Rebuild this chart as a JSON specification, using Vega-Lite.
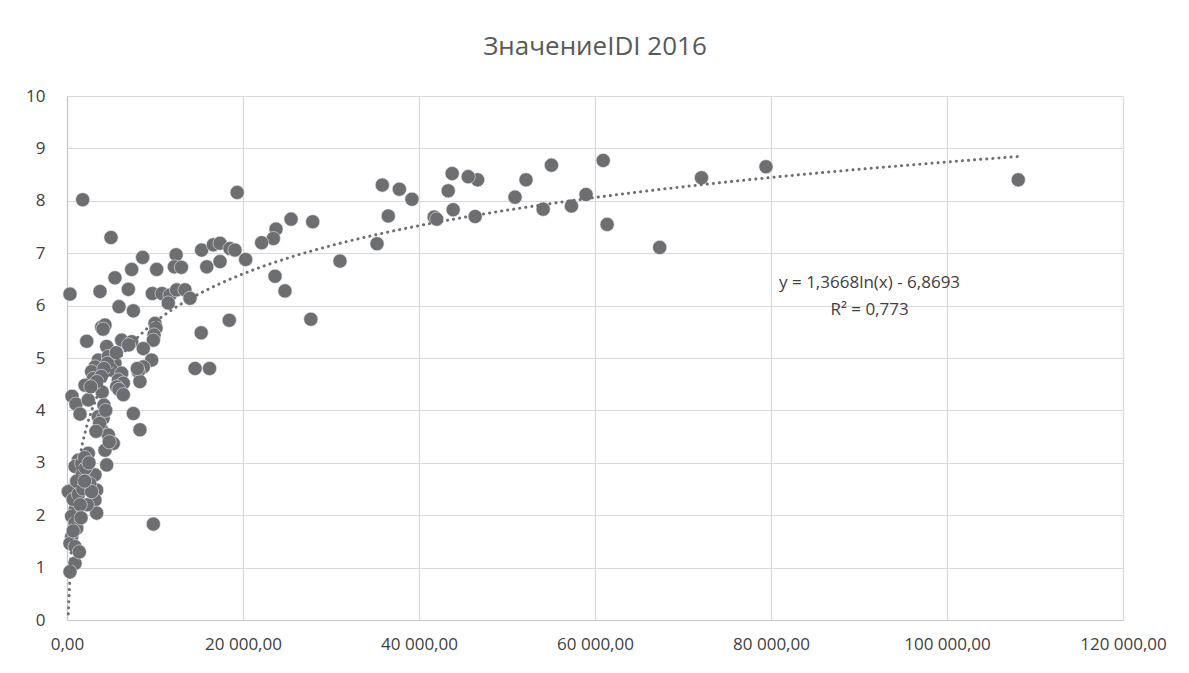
{
  "$schema": "https://vega.github.io/schema/vega-lite/v6.json",
  "width": 1056,
  "height": 524,
  "autosize": {"type": "none"},
  "padding": {"left": 67, "top": 96, "right": 66, "bottom": 53},
  "background": "white",
  "title": {"text": "ЗначениеIDI 2016", "fontSize": 26, "font": "Open Sans", "fontWeight": "normal", "color": "#595959", "offset": 27, "anchor": "middle"},
  "config": {"view": {"stroke": null}},
  "datasets": {
    "pts": [
      {"gdp": 108100, "idi": 8.40}, {"gdp": 79430, "idi": 8.65}, {"gdp": 72100, "idi": 8.44}, {"gdp": 67350, "idi": 7.11},
      {"gdp": 60930, "idi": 8.77}, {"gdp": 61380, "idi": 7.55}, {"gdp": 58980, "idi": 8.12}, {"gdp": 57320, "idi": 7.90},
      {"gdp": 55050, "idi": 8.68}, {"gdp": 54110, "idi": 7.84}, {"gdp": 52160, "idi": 8.40}, {"gdp": 50910, "idi": 8.07},
      {"gdp": 46660, "idi": 8.40}, {"gdp": 45590, "idi": 8.46}, {"gdp": 46380, "idi": 7.70}, {"gdp": 43770, "idi": 8.52},
      {"gdp": 43880, "idi": 7.83}, {"gdp": 43320, "idi": 8.19}, {"gdp": 41720, "idi": 7.69}, {"gdp": 42010, "idi": 7.65},
      {"gdp": 39200, "idi": 8.03}, {"gdp": 37770, "idi": 8.22}, {"gdp": 35830, "idi": 8.30}, {"gdp": 36510, "idi": 7.71},
      {"gdp": 35230, "idi": 7.18}, {"gdp": 31020, "idi": 6.85}, {"gdp": 27920, "idi": 7.60}, {"gdp": 27710, "idi": 5.74},
      {"gdp": 25460, "idi": 7.65}, {"gdp": 23750, "idi": 7.46}, {"gdp": 23450, "idi": 7.28}, {"gdp": 22120, "idi": 7.20},
      {"gdp": 20300, "idi": 6.88}, {"gdp": 23640, "idi": 6.56}, {"gdp": 24770, "idi": 6.28}, {"gdp": 19340, "idi": 8.16},
      {"gdp": 18440, "idi": 5.72}, {"gdp": 15250, "idi": 5.48}, {"gdp": 14550, "idi": 4.80}, {"gdp": 16200, "idi": 4.80},
      {"gdp": 15300, "idi": 7.06}, {"gdp": 16630, "idi": 7.16}, {"gdp": 17390, "idi": 7.19}, {"gdp": 18520, "idi": 7.09},
      {"gdp": 19090, "idi": 7.06}, {"gdp": 15880, "idi": 6.74}, {"gdp": 17390, "idi": 6.84}, {"gdp": 12400, "idi": 6.97},
      {"gdp": 12200, "idi": 6.74}, {"gdp": 13000, "idi": 6.73}, {"gdp": 10190, "idi": 6.69}, {"gdp": 9700, "idi": 6.23},
      {"gdp": 10800, "idi": 6.23}, {"gdp": 11700, "idi": 6.20}, {"gdp": 12460, "idi": 6.30}, {"gdp": 13410, "idi": 6.30},
      {"gdp": 13980, "idi": 6.14}, {"gdp": 11510, "idi": 6.05}, {"gdp": 10000, "idi": 5.66}, {"gdp": 10110, "idi": 5.57},
      {"gdp": 9890, "idi": 5.44}, {"gdp": 9810, "idi": 5.34}, {"gdp": 9620, "idi": 4.96}, {"gdp": 8670, "idi": 4.83},
      {"gdp": 8100, "idi": 4.74}, {"gdp": 8290, "idi": 4.55}, {"gdp": 8600, "idi": 6.92}, {"gdp": 7350, "idi": 6.69},
      {"gdp": 6970, "idi": 6.31}, {"gdp": 5450, "idi": 6.53}, {"gdp": 3750, "idi": 6.27}, {"gdp": 340, "idi": 6.22},
      {"gdp": 1780, "idi": 8.02}, {"gdp": 5000, "idi": 7.30}, {"gdp": 5910, "idi": 5.98}, {"gdp": 7540, "idi": 5.90},
      {"gdp": 3940, "idi": 5.59}, {"gdp": 4320, "idi": 5.63}, {"gdp": 2240, "idi": 5.32}, {"gdp": 4510, "idi": 5.22},
      {"gdp": 6210, "idi": 5.34}, {"gdp": 7350, "idi": 5.31}, {"gdp": 8670, "idi": 5.18}, {"gdp": 3560, "idi": 4.96},
      {"gdp": 3180, "idi": 4.83}, {"gdp": 2800, "idi": 4.74}, {"gdp": 2990, "idi": 4.61}, {"gdp": 4700, "idi": 5.03},
      {"gdp": 5450, "idi": 4.90}, {"gdp": 5080, "idi": 4.77}, {"gdp": 6210, "idi": 4.71}, {"gdp": 5830, "idi": 4.58},
      {"gdp": 6400, "idi": 4.52}, {"gdp": 5650, "idi": 4.45}, {"gdp": 2050, "idi": 4.48}, {"gdp": 570, "idi": 4.27},
      {"gdp": 1020, "idi": 4.12}, {"gdp": 1480, "idi": 3.93}, {"gdp": 2420, "idi": 4.20}, {"gdp": 7540, "idi": 3.94},
      {"gdp": 8290, "idi": 3.63}, {"gdp": 9810, "idi": 1.83}, {"gdp": 3560, "idi": 3.88}, {"gdp": 3940, "idi": 3.63},
      {"gdp": 4700, "idi": 3.53}, {"gdp": 5260, "idi": 3.37}, {"gdp": 4320, "idi": 3.24}, {"gdp": 4510, "idi": 2.96},
      {"gdp": 2420, "idi": 3.18}, {"gdp": 1290, "idi": 3.05}, {"gdp": 910, "idi": 2.93}, {"gdp": 1670, "idi": 2.99},
      {"gdp": 2800, "idi": 2.73}, {"gdp": 3180, "idi": 2.77}, {"gdp": 530, "idi": 2.48}, {"gdp": 150, "idi": 2.45},
      {"gdp": 3370, "idi": 2.48}, {"gdp": 3180, "idi": 2.29}, {"gdp": 3370, "idi": 2.04}, {"gdp": 910, "idi": 2.10},
      {"gdp": 530, "idi": 1.98}, {"gdp": 910, "idi": 1.85}, {"gdp": 530, "idi": 1.59}, {"gdp": 340, "idi": 1.46},
      {"gdp": 910, "idi": 1.40}, {"gdp": 910, "idi": 1.08}, {"gdp": 340, "idi": 0.92}, {"gdp": 4000, "idi": 4.35},
      {"gdp": 4200, "idi": 4.10}, {"gdp": 4100, "idi": 3.85}, {"gdp": 3700, "idi": 3.75}, {"gdp": 4400, "idi": 4.00},
      {"gdp": 3300, "idi": 3.60}, {"gdp": 4800, "idi": 3.40}, {"gdp": 1500, "idi": 2.60}, {"gdp": 1800, "idi": 2.80},
      {"gdp": 2100, "idi": 2.90}, {"gdp": 1100, "idi": 2.65}, {"gdp": 700, "idi": 2.30}, {"gdp": 1300, "idi": 2.40},
      {"gdp": 1800, "idi": 2.50}, {"gdp": 2300, "idi": 2.20}, {"gdp": 2600, "idi": 2.60}, {"gdp": 1500, "idi": 2.20},
      {"gdp": 1100, "idi": 1.75}, {"gdp": 700, "idi": 1.70}, {"gdp": 2800, "idi": 2.45}, {"gdp": 2000, "idi": 3.10},
      {"gdp": 2500, "idi": 3.00}, {"gdp": 4600, "idi": 4.90}, {"gdp": 4200, "idi": 4.80}, {"gdp": 3900, "idi": 4.65},
      {"gdp": 3400, "idi": 4.55}, {"gdp": 5900, "idi": 4.40}, {"gdp": 6400, "idi": 4.30}, {"gdp": 4100, "idi": 5.55},
      {"gdp": 5600, "idi": 5.10}, {"gdp": 7000, "idi": 5.25}, {"gdp": 8000, "idi": 4.80}, {"gdp": 2700, "idi": 4.45},
      {"gdp": 1600, "idi": 1.95}, {"gdp": 2000, "idi": 2.65}, {"gdp": 1400, "idi": 1.30}
    ],
    "eq": [
      {"gdp": 91200, "idi": 6.43, "label": "y = 1,3668ln(x) - 6,8693"},
      {"gdp": 91200, "idi": 5.92, "label": "R² = 0,773"}
    ]
  },
  "layer": [
    {
      "data": {"name": "pts"},
      "mark": {"type": "point", "filled": true, "size": 200, "color": "#6d6e71", "opacity": 1, "stroke": "#e8e8e8", "strokeWidth": 0.6},
      "encoding": {
        "x": {"field": "gdp", "type": "quantitative", "scale": {"domain": [0, 120000], "nice": false, "zero": true},
          "axis": {"values": [0, 20000, 40000, 60000, 80000, 100000, 120000], "title": null, "grid": true, "gridColor": "#d9d9d9", "gridWidth": 1.2,
            "domainColor": "#c8c8c8", "domainWidth": 1.2, "ticks": false, "labelPadding": 16, "labelFontSize": 17, "labelFont": "Open Sans", "labelColor": "#404040",
            "labelExpr": "datum.value == 0 ? '0,00' : format(datum.value / 1000, 'd') + ' 000,00'", "labelFlush": false}},
        "y": {"field": "idi", "type": "quantitative", "scale": {"domain": [0, 10], "nice": false},
          "axis": {"values": [0, 1, 2, 3, 4, 5, 6, 7, 8, 9, 10], "title": null, "grid": true, "gridColor": "#d9d9d9", "gridWidth": 1.2,
            "domainColor": "#c8c8c8", "domainWidth": 1.2, "ticks": false, "labelPadding": 22, "labelFontSize": 17, "labelFont": "Open Sans", "labelColor": "#404040"}}
      }
    },
    {
      "data": {"name": "pts"},
      "transform": [{"regression": "idi", "on": "gdp", "method": "log"}],
      "mark": {"type": "line", "color": "#6d6e71", "strokeWidth": 3, "strokeDash": [0.1, 6], "strokeCap": "round"},
      "encoding": {
        "x": {"field": "gdp", "type": "quantitative"},
        "y": {"field": "idi", "type": "quantitative"}
      }
    },
    {
      "data": {"name": "eq"},
      "mark": {"type": "text", "font": "Open Sans", "fontSize": 17, "color": "#404040", "align": "center", "baseline": "middle"},
      "encoding": {
        "x": {"field": "gdp", "type": "quantitative"},
        "y": {"field": "idi", "type": "quantitative"},
        "text": {"field": "label"}
      }
    }
  ]
}
